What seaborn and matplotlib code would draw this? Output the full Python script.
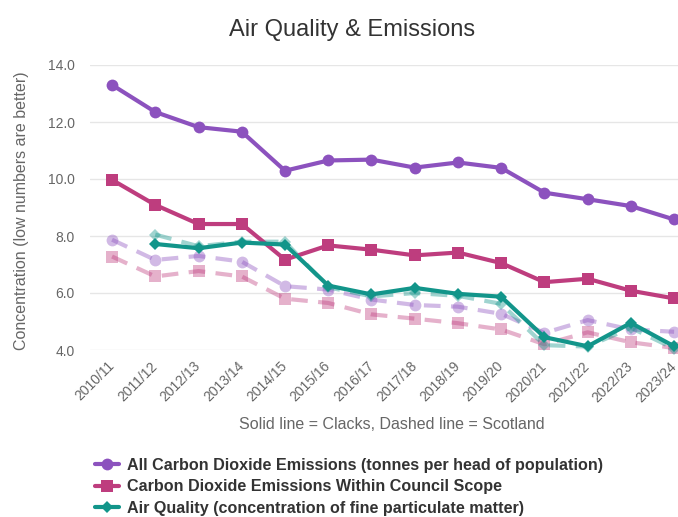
import numpy as np
import pandas as pd
import seaborn as sns
import matplotlib.pyplot as plt
from matplotlib.lines import Line2D

# Financial years on the x axis
years = ["2010/11", "2011/12", "2012/13", "2013/14", "2014/15", "2015/16", "2016/17",
         "2017/18", "2018/19", "2019/20", "2020/21", "2021/22", "2022/23", "2023/24"]

# Clacks (solid lines)
co2_all_clacks = [13.3, 12.35, 11.82, 11.66, 10.29, 10.65, 10.68, 10.4, 10.58, 10.39,
                  9.52, 9.29, 9.05, 8.58]
co2_council_clacks = [9.97, 9.09, 8.42, 8.42, 7.17, 7.67, 7.52, 7.32, 7.42, 7.05,
                      6.38, 6.5, 6.08, 5.81]
air_clacks = [np.nan, 7.72, 7.57, 7.77, 7.7, 6.26, 5.95, 6.18, 5.97, 5.87,
              4.45, 4.13, 4.95, 4.13]

# Scotland (dashed lines)
co2_all_scot = [7.87, 7.16, 7.3, 7.1, 6.24, 6.12, 5.77, 5.58, 5.52, 5.27,
                4.6, 5.05, 4.72, 4.64]
co2_council_scot = [7.28, 6.58, 6.77, 6.58, 5.8, 5.65, 5.25, 5.1, 4.94, 4.72,
                    4.2, 4.62, 4.27, 4.07]
air_scot = [np.nan, 8.05, 7.64, 7.8, 7.8, 6.2, 5.88, 6.0, 5.9, 5.62,
            4.17, 4.12, 4.78, 4.05]

series_names = ["All Carbon Dioxide Emissions (tonnes per head of population)",
                "Carbon Dioxide Emissions Within Council Scope",
                "Air Quality (concentration of fine particulate matter)"]
colors = ["#8c52be", "#be3d7e", "#12958a"]
markers = ["o", "s", "D"]
msizes = [8.5, 8, 6.5]

sns.set_theme(style="white")
plt.rcParams["font.family"] = ["Liberation Sans", "DejaVu Sans"]

fig = plt.figure(figsize=(6.78, 5.17), dpi=100)
ax = fig.add_axes([90 / 678, 1 - 350 / 517, 588 / 678, 285 / 517])

x = np.arange(len(years))
clacks = [co2_all_clacks, co2_council_clacks, air_clacks]
scot = [co2_all_scot, co2_council_scot, air_scot]

# dashed Scotland lines first, faded
for vals, c, m, ms in zip(scot, colors, markers, msizes):
    df = pd.DataFrame({"x": x, "y": vals}).dropna()
    sns.lineplot(data=df, x="x", y="y", ax=ax, color=c, alpha=0.4, lw=3,
                 marker=m, markersize=ms, markeredgewidth=0,
                 clip_on=False, zorder=2)
    ax.lines[-1].set_dashes([4, 2.5])

for vals, c, m, ms in zip(clacks, colors, markers, msizes):
    df = pd.DataFrame({"x": x, "y": vals}).dropna()
    sns.lineplot(data=df, x="x", y="y", ax=ax, color=c, lw=3,
                 marker=m, markersize=ms, markeredgewidth=0,
                 clip_on=False, zorder=3)

ax.set_xlim(-0.51, 13.09)
ax.set_ylim(4, 14)
ax.set_yticks(np.arange(4, 14.1, 2))
ax.set_yticklabels([f"{v:.1f}" for v in np.arange(4, 14.1, 2)])
ax.set_xticks(x)
ax.set_xticklabels(years, rotation=45, ha="right", va="center",
                   rotation_mode="anchor")
ax.tick_params(axis="both", labelsize=10, colors="#666666", length=0)
ax.tick_params(axis="x", pad=10)
ax.tick_params(axis="y", pad=11)
ax.grid(axis="y", color="#e6e6e6", lw=1)
for s in ax.spines.values():
    s.set_visible(False)

ax.set_xlabel("Solid line = Clacks, Dashed line = Scotland", fontsize=11.5,
              color="#666666")
ax.xaxis.set_label_coords((392 - 90) / 588, (350 - 417) / 285)
ax.set_ylabel("Concentration (low numbers are better)", fontsize=11.5,
              color="#666666")
ax.yaxis.set_label_coords((29 - 90) / 588, 0.49)
fig.text(352 / 678, 1 - 30 / 517, "Air Quality & Emissions", ha="center",
         va="center", fontsize=17, color="#333333")

handles = [Line2D([0], [0], color=c, lw=3, marker=m, markersize=ms, markeredgewidth=0)
           for c, m, ms in zip(colors, markers, msizes)]
leg = fig.legend(handles, series_names, loc="upper left",
                 bbox_to_anchor=(95 / 678, 1 - 458 / 517), frameon=False,
                 handlelength=1.5, handletextpad=0.5, labelspacing=0.4,
                 borderaxespad=0, borderpad=0,
                 prop={"weight": "bold", "size": 11.6})
for t in leg.get_texts():
    t.set_color("#333333")

fig.savefig("out.png", dpi=100)
